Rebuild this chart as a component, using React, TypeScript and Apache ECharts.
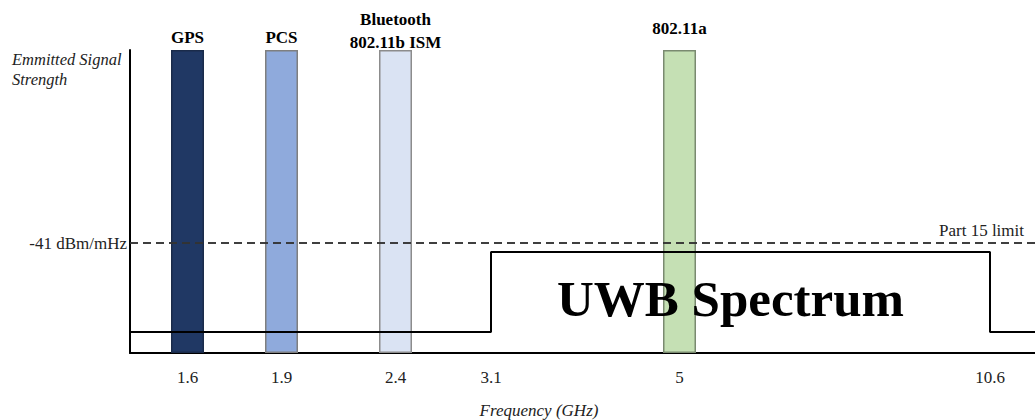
import React, { useEffect, useRef } from "react";
import * as echarts from "echarts";

// Schematic (not-to-scale) positions of the frequency ticks along the axis
const freqLabels = ["1.6", "1.9", "2.4", "3.1", "5", "10.6"];
const freqPos = [57.5, 151.5, 265.5, 361, 549.5, 860];

// Interfering narrowband systems
const bandNames = ["GPS", "PCS", "Bluetooth\n802.11b ISM", "802.11a"];
const bandFreq = ["1.6", "1.9", "2.4", "5"];
const bandHeight = [100, 100, 100, 100];
const bandColors = ["#203864", "#8faadc", "#dae3f3", "#c5e0b4"];
const bandBorders = ["#1a2b4a", "#7f7f7f", "#8c8c8c", "#7a8a70"];
const bandLabelOffset = [1, 1, 6, -8];

// UWB emission mask (relative strength units)
const uwbLow = 6.9;
const uwbHigh = 33.3;
const part15Limit = 36.3;
const uwbStart = "3.1";
const uwbEnd = "10.6";
const xMax = 905;

const serif = "'Liberation Serif', 'Times New Roman', serif";

export default function App() {
  const ref = useRef<HTMLDivElement>(null);
  useEffect(() => {
    if (!ref.current) return;
    const chart = echarts.init(ref.current, null, { renderer: "svg" });
    const posOf = (f: string) => freqPos[freqLabels.indexOf(f)];
    const xs = posOf(uwbStart);
    const xe = posOf(uwbEnd);
    const uwbData = [
      [0, uwbLow],
      [xs, uwbLow],
      [xs, uwbHigh],
      [xe, uwbHigh],
      [xe, uwbLow],
      [xMax, uwbLow],
    ];
    chart.setOption({
      animation: false,
      textStyle: { fontFamily: serif },
      grid: { left: 130, right: 0, top: 50, bottom: 67, outerBoundsMode: "none", containLabel: false },
      xAxis: {
        type: "value",
        min: 0,
        max: xMax,
        axisLine: { show: true, lineStyle: { color: "#000", width: 2 } },
        axisTick: { show: false },
        splitLine: { show: false },
        axisLabel: {
          customValues: freqPos,
          formatter: (v: number) => {
            const i = freqPos.indexOf(v);
            return i >= 0 ? freqLabels[i] : "";
          },
          margin: 16,
          fontSize: 17,
          fontFamily: serif,
          color: "#222",
        },
      },
      yAxis: {
        type: "value",
        min: 0,
        max: 100,
        axisLine: { show: true, onZero: false, lineStyle: { color: "#000", width: 2 } },
        axisTick: { show: false },
        axisLabel: { show: false },
        splitLine: { show: false },
      },
      graphic: [
        {
          type: "text",
          left: 12,
          top: 49,
          style: {
            text: "Emmitted Signal\nStrength",
            font: `italic 16.5px ${serif}`,
            lineHeight: 20,
            fill: "#222",
          },
        },
        {
          type: "text",
          x: 539,
          y: 410,
          style: {
            text: "Frequency (GHz)",
            font: `italic 17px ${serif}`,
            fill: "#222",
            align: "center",
            verticalAlign: "middle",
          },
        },
        {
          type: "text",
          left: 557,
          top: 273,
          z: 100,
          style: {
            text: "UWB Spectrum",
            font: `bold 51px ${serif}`,
            fill: "#000",
          },
        },
      ],
      series: [
        {
          type: "bar",
          barWidth: 33,
          z: 1,
          data: bandNames.map((n, i) => ({
            value: [posOf(bandFreq[i]), bandHeight[i]],
            name: n,
            itemStyle: { color: bandColors[i], borderColor: bandBorders[i], borderWidth: 1.5 },
            label: {
              show: true,
              position: "top",
              distance: 2,
              offset: [0, bandLabelOffset[i]],
              formatter: n,
              fontFamily: serif,
              fontWeight: "bold",
              fontSize: 17,
              lineHeight: 23,
              color: "#000",
            },
          })),
        },
        {
          type: "line",
          z: 5,
          symbol: "none",
          lineStyle: { color: "#000", width: 2 },
          data: uwbData,
          markLine: {
            silent: true,
            symbol: "none",
            lineStyle: { color: "#333", width: 1.5, type: [8, 5] },
            data: [
              {
                yAxis: part15Limit,
                label: {
                  position: "start",
                  formatter: "-41 dBm/mHz",
                  distance: 3,
                  fontFamily: serif,
                  fontSize: 17,
                  color: "#222",
                },
              },
              {
                yAxis: part15Limit,
                label: {
                  position: "insideEndTop",
                  formatter: "Part 15 limit",
                  distance: 3,
                  offset: [-8, -1],
                  fontFamily: serif,
                  fontSize: 17,
                  color: "#222",
                },
              },
            ],
          },
        },
      ],
    });
    return () => chart.dispose();
  }, []);
  return (
    <div
      ref={ref}
      style={{ position: "absolute", left: 0, top: 0, width: 1035, height: 420, background: "#fff" }}
    />
  );
}
